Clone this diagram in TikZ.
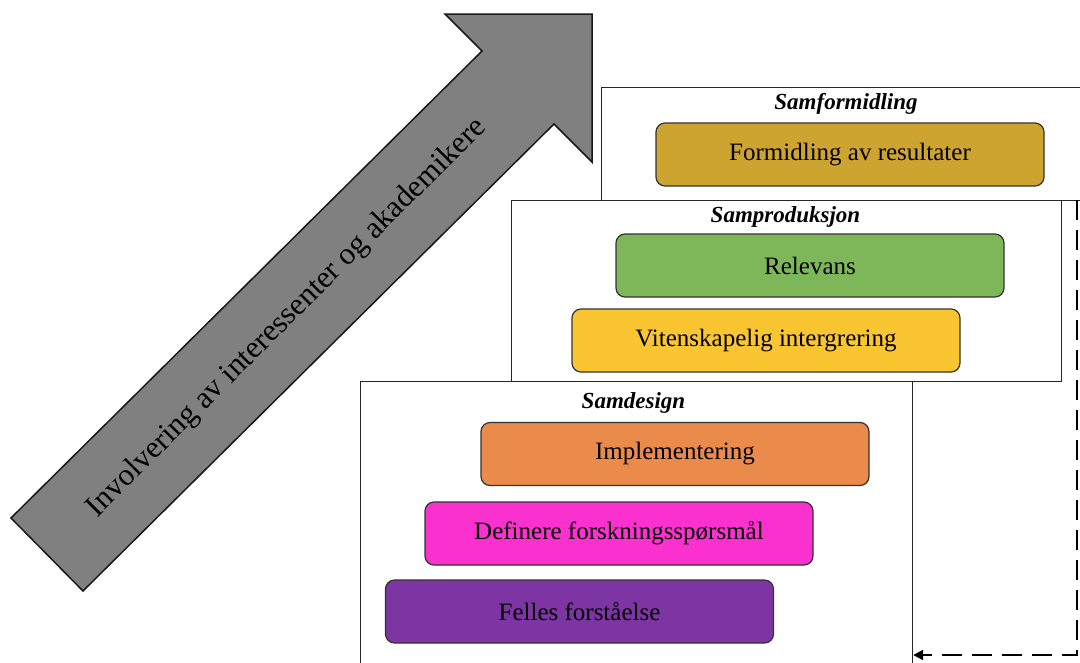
\documentclass[tikz,border=0pt]{standalone}
\usepackage{fontspec}
\setmainfont{Liberation Serif}
\usetikzlibrary{arrows.meta}

\definecolor{formgold}{RGB}{205,164,47}
\definecolor{relgreen}{RGB}{126,182,90}
\definecolor{vityellow}{RGB}{249,198,50}
\definecolor{implorange}{RGB}{234,139,76}
\definecolor{defmagenta}{RGB}{250,48,207}
\definecolor{fellpurple}{RGB}{124,53,163}

\tikzset{
  phase/.style={draw=black!85, line width=1.2pt, fill=white, anchor=north west, inner sep=0pt},
  phasetitle/.style={font=\bfseries\itshape\fontsize{23}{27}\selectfont},
  task/.style={draw=black!80, line width=1.2pt, rounded corners=9pt, minimum width=388pt, minimum height=63pt, inner sep=0pt, font=\fontsize{25}{30}\selectfont},
  arrowbody/.style={draw=black!90, line width=1.5pt, fill=black!50, line join=miter},
  feedback/.style={line width=2pt, dash pattern=on 20pt off 10pt, -{Triangle[length=10pt,width=10pt]}}
}

\begin{document}
\begin{tikzpicture}[x=1pt, y=-1pt]
\useasboundingbox (0,0) rectangle (1080,662);

\draw[arrowbody] (11,518) -- (482,51) -- (445,14) -- (592,14) -- (592,162) -- (554,124) -- (83,591) -- cycle;
\node[rotate=45, font=\fontsize{31}{36}\selectfont] (involvering) at (287,318) {Involvering av interessenter og akademikere};

\node[phase, minimum width=490pt, minimum height=113pt] (samformidling) at (601,87) {};
\node[phasetitle] (samformidlingtitle) at (846,104) {Samformidling};
\node[task, fill=formgold] (formidling) at (850,154.5) {Formidling av resultater};

\node[phase, minimum width=550pt, minimum height=181pt] (samproduksjon) at (511,200) {};
\node[phasetitle] (samproduksjontitle) at (785.5,217) {Samproduksjon};
\node[task, fill=relgreen] (relevans) at (810,265.5) {Relevans};
\node[task, fill=vityellow] (vitenskapelig) at (766,340.5) {Vitenskapelig intergrering};

\node[phase, minimum width=552pt, minimum height=320pt] (samdesign) at (360,381) {};
\node[phasetitle] (samdesigntitle) at (633.5,403) {Samdesign};
\node[task, fill=implorange] (implementering) at (675,454) {Implementering};
\node[task, fill=defmagenta] (definere) at (619,533.5) {Definere forskningsspørsmål};
\node[task, fill=fellpurple] (felles) at (579.5,611.5) {Felles forståelse};

\coordinate (fbtop) at (1077,200);
\coordinate (fbturn) at (1077,655);
\draw[feedback] (fbtop) -- (fbturn) -- (samdesign.east |- fbturn);
\end{tikzpicture}
\end{document}
